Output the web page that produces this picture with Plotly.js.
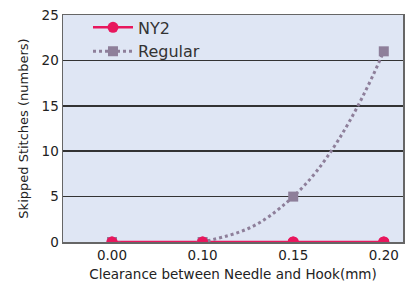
<!DOCTYPE html>
<html><head><meta charset="utf-8">
<script src="https://cdn.plot.ly/plotly-3.0.1.min.js"></script>
<style>html,body{margin:0;padding:0;background:#fff}#c{width:409px;height:291px}</style>
</head><body><div id="c"></div>
<script>
const categories = ["0.00", "0.10", "0.15", "0.20"];
const ny2 = [0, 0, 0, 0];
const regular = [0, 0, 5, 21];
const idx = categories.map((_, i) => i);

const pink = "#e8175d", mauve = "#8e7f9a";
const traces = [
  {x: idx, y: ny2, name: "NY2", type: "scatter", mode: "lines+markers",
   line: {color: pink, width: 2.5},
   marker: {symbol: "circle", size: 11, color: pink}, legendrank: 1},
  {x: idx, y: regular, name: "Regular", type: "scatter", mode: "lines+markers",
   line: {color: mauve, width: 3, dash: "dot", shape: "spline", smoothing: 1.3},
   marker: {symbol: "square", size: 10, color: mauve}, legendrank: 2},
  {x: idx, y: ny2, name: "NY2", type: "scatter", mode: "markers", showlegend: false,
   marker: {symbol: "circle", size: 11, color: pink}}
];
const fam = "DejaVu Sans, Verdana, sans-serif";
const layout = {
  width: 409, height: 291,
  margin: {l: 63, r: 6, t: 15, b: 49},
  paper_bgcolor: "#fff", plot_bgcolor: "#dfe6f4",
  font: {family: fam, color: "#222", size: 13},
  showlegend: true,
  legend: {x: 0.0735, y: 1.02, xanchor: "left", yanchor: "top", bgcolor: "rgba(0,0,0,0)",
           font: {size: 16, color: "#333"}, tracegroupgap: 0, itemwidth: 40},
  xaxis: {tickmode: "array", tickvals: idx, ticktext: categories, range: [-0.541, 3.212],
          showgrid: false, zeroline: false, showline: true, linecolor: "#666", linewidth: 1.5, mirror: true,
          ticks: "", tickfont: {size: 13.5},
          title: {text: "Clearance between Needle and Hook(mm)", font: {size: 13.5}, standoff: 8}},
  yaxis: {range: [0, 25], tickvals: [0, 5, 10, 15, 20, 25], showgrid: true, gridcolor: "#333", gridwidth: 1.5,
          zeroline: false, showline: true, linecolor: "#666", linewidth: 1.5, mirror: true,
          ticks: "", tickfont: {size: 13.5},
          title: {text: "Skipped Stitches (numbers)", font: {size: 13}, standoff: 10}}
};
Plotly.newPlot("c", traces, layout, {displayModeBar: false, staticPlot: true});
</script></body></html>
